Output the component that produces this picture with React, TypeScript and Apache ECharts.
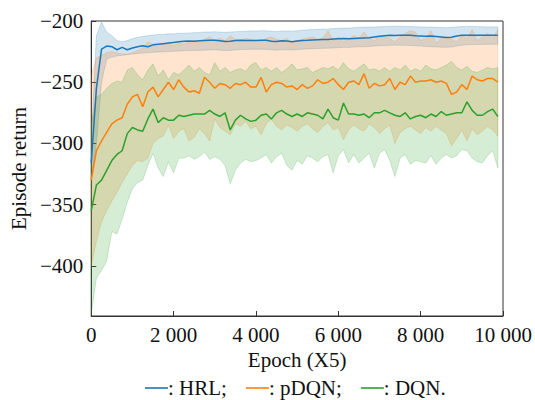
import React, { useEffect, useRef } from 'react';
import * as echarts from 'echarts';

const STEP = 125;

const hrlMean = [
  -316, -255, -223, -220.5, -221, -223.5, -221.5, -223.5, -222, -221,
  -220.2, -221, -219.5, -219, -218.5, -218, -217.5, -217, -216.5, -216.3,
  -216.5, -216.2, -216, -215.8, -215.8, -216.2, -216.8, -216.5, -216, -215.8,
  -216, -215.9, -216, -215.7, -215.8, -216.5, -216.8, -216.2, -216.4, -217,
  -216.3, -216, -215.8, -215.5, -215.3, -215.1, -215.2, -214.8, -214.5, -214.3,
  -214.6, -214.2, -214, -213.8, -213.6, -213, -212.5, -212, -211.7, -211.8,
  -211.6, -211.7, -211.6, -212, -212.2, -212.4, -212.2, -212.6, -213, -213.5,
  -213.2, -212.2, -211.7, -211.6, -211.7, -211.6, -211.6, -211.7, -211.6, -211.6,
];
const hrlHigh = [
  -300, -212, -201, -209, -212, -216, -217, -216, -214.5, -213.5,
  -212.5, -212, -211.5, -211, -211, -210.5, -210.5, -210, -210, -209.8,
  -209.5, -209.3, -209, -209, -208.8, -209, -209.2, -209, -208.7, -208.5,
  -208.3, -208, -208.2, -208, -208, -208.4, -208.5, -208.2, -208.1, -208.3,
  -208, -207.5, -207.2, -207, -206.8, -206.5, -206.5, -206.2, -206, -205.8,
  -205.8, -205.5, -205.2, -205, -205, -204.9, -204.7, -204.5, -204.3, -204.3,
  -204.3, -204.4, -204.5, -204.6, -204.8, -205, -205, -205.2, -205.3, -205.5,
  -205.2, -204.8, -204.5, -204.4, -204.5, -204.6, -204.7, -204.8, -204.8, -204.9,
];
const hrlLow = [
  -330, -300, -250, -231, -229.5, -228.5, -228, -227.5, -227, -226.5,
  -226.2, -226, -225.6, -225.3, -225.2, -225, -224.8, -224.5, -224.3, -224.2,
  -224, -224, -223.8, -223.6, -223.5, -223.8, -224.2, -224, -223.6, -223.3,
  -223.2, -223, -223.2, -223, -223.2, -223.5, -223.8, -223.5, -223.5, -223.6,
  -223.3, -223, -222.8, -222.6, -222.5, -222.3, -222.2, -222, -221.8, -221.5,
  -221.6, -221.3, -221.1, -221, -220.8, -220.5, -220.2, -220, -219.8, -219.8,
  -219.8, -219.9, -220, -220.2, -220.5, -220.8, -221, -221.2, -221.4, -221.5,
  -221.2, -220.5, -219.8, -219.5, -219.3, -219.2, -219.1, -219, -219, -219,
];

const pdqnMean = [
  -330, -306, -298, -291, -284, -281, -279, -268, -262, -260,
  -270, -258, -254, -262, -256, -250, -256, -248, -254, -258,
  -257, -259, -246, -250, -255, -251, -252, -255, -251, -252,
  -250, -254, -254, -246, -258, -252, -250, -251, -254, -253,
  -256, -252, -255, -253, -248, -251, -250, -247, -252, -256,
  -250, -249, -252, -243, -255, -251, -253, -252, -247, -256,
  -250, -252, -245, -250, -249, -249, -248, -250, -249, -251,
  -260, -258, -252, -256, -245, -248, -249, -247, -247, -250,
];
const pdqnHigh = [
  -245, -230, -228, -226, -225, -226, -227, -227, -226, -224,
  -222, -217, -219, -221, -218, -219, -220, -218, -219, -217,
  -216, -217, -215, -213, -216, -214, -216, -212, -215, -216,
  -214, -215, -216, -217, -214, -213, -215, -216, -214, -218,
  -216, -215, -214, -213, -215, -214, -208, -216, -213, -217,
  -215, -212, -214, -209, -214, -216, -212, -213, -214, -217,
  -213, -210, -208, -209, -216, -214, -208, -218, -214, -213,
  -215, -217, -212, -214, -207, -216, -213, -210, -214, -207,
];
const pdqnLow = [
  -400, -380, -364, -355, -347, -340, -332, -325, -318, -314,
  -315, -312, -300, -296, -294, -285, -296, -290, -288, -298,
  -295, -288, -292, -298, -280, -287, -290, -293, -284, -286,
  -282, -288, -286, -293, -284, -280, -286, -289, -285, -287,
  -290, -286, -284, -288, -291, -286, -283, -289, -287, -297,
  -289, -285, -288, -290, -284, -287, -292, -288, -285, -300,
  -291, -288, -286, -289, -292, -287, -290, -286, -289, -292,
  -302, -296, -289, -298, -288, -293, -290, -286, -289, -294,
];

const dqnMean = [
  -355, -334, -330, -322, -314, -309, -306, -292, -287, -289,
  -290, -280, -272, -283, -279, -281, -281, -277, -278, -277,
  -276, -276, -276, -273, -276, -278, -275, -289, -281, -277,
  -280, -282, -281, -277, -276, -280, -275, -273, -276, -278,
  -276, -278, -275, -276, -277, -280, -272, -279, -281, -267,
  -276, -276, -277, -276, -279, -275, -275, -273, -275, -277,
  -278, -275, -280, -278, -277, -279, -276, -278, -274, -277,
  -276, -275, -275, -266, -273, -277, -277, -274, -272, -278,
];
const dqnHigh = [
  -285, -262, -260, -255, -251, -249, -250, -240, -238, -244,
  -248, -240, -235, -245, -240, -248, -242, -244, -240, -236,
  -241, -238, -242, -244, -234, -241, -238, -242, -240, -239,
  -241, -236, -234, -240, -238, -241, -238, -242, -239, -235,
  -240, -239, -238, -242, -240, -238, -239, -237, -240, -234,
  -239, -241, -238, -235, -240, -239, -241, -238, -241, -238,
  -240, -236, -241, -239, -241, -236, -239, -240, -238, -236,
  -233, -238, -240, -237, -241, -242, -240, -238, -239, -238,
];
const dqnLow = [
  -440, -410, -404, -396, -372, -374, -362, -348, -337, -332,
  -330, -318, -308, -320, -327, -315, -324, -312, -312, -310,
  -313, -311, -307, -313, -311, -313, -318, -333, -322, -316,
  -313, -315, -314, -312, -309, -316, -311, -308, -318, -322,
  -314, -317, -310, -312, -315, -311, -309, -324, -310, -305,
  -316, -309, -316, -312, -308, -320, -308, -305, -314, -327,
  -312, -309, -317, -314, -315, -316, -310, -317, -312, -309,
  -312, -310, -305, -306, -312, -315, -316, -310, -306, -320,
];

const epochs = hrlMean.map((_, i) => i * STEP);

const yTicks = [-400, -350, -300, -250, -200];

const FONT = "'Liberation Serif', 'Times New Roman', serif";

function bandSeries(name: string, low: number[], high: number[], fill: string, edge: string) {
  return {
    type: 'custom',
    name: name + ' band',
    silent: true,
    clip: true,
    z: 1,
    data: [[epochs[0], low[0]]],
    encode: { x: 0, y: 1 },
    renderItem: (params: any, api: any) => {
      const pts: number[][] = [];
      for (let i = 0; i < epochs.length; i++) pts.push(api.coord([epochs[i], high[i]]));
      for (let i = epochs.length - 1; i >= 0; i--) pts.push(api.coord([epochs[i], low[i]]));
      return {
        type: 'polygon',
        shape: { points: pts },
        style: { fill, stroke: edge, lineWidth: 0.8 },
      };
    },
  };
}

function lineSeries(name: string, values: number[], color: string) {
  return {
    type: 'line',
    name,
    z: 5,
    symbol: 'none',
    showSymbol: false,
    data: epochs.map((x, i) => [x, values[i]]),
    lineStyle: { color, width: 1.5 },
    itemStyle: { color },
  };
}

function fmtThousands(v: number) {
  return String(v).replace(/\B(?=(\d{3})+(?!\d))/g, ' ');
}

export default function App() {
  const ref = useRef<HTMLDivElement>(null);
  useEffect(() => {
    if (!ref.current) return;
    const chart = echarts.init(ref.current, undefined, { renderer: 'svg' });
    chart.setOption({
      animation: false,
      textStyle: { fontFamily: FONT },
      grid: {
        left: 89,
        right: 32,
        top: 21,
        bottom: 84,
        show: true,
        borderColor: '#333',
        borderWidth: 1,
        backgroundColor: 'transparent',
      },
      legend: {
        data: ['HRL', 'pDQN', 'DQN'],
        left: 145,
        top: 377,
        padding: 0,
        icon: 'rect',
        itemWidth: 23,
        itemHeight: 1.6,
        itemGap: 19,
        formatter: (name: string) => (name === 'DQN' ? ': DQN.' : ': ' + name + ';'),
        textStyle: { fontFamily: FONT, fontSize: 21, lineHeight: 22, color: '#111', padding: [0, 0, 0, -5] },
      },
      xAxis: {
        type: 'value',
        min: 0,
        max: 10000,
        interval: 2000,
        name: 'Epoch (X5)',
        nameLocation: 'middle',
        nameGap: 33,
        nameTextStyle: { fontFamily: FONT, fontSize: 21, color: '#111' },
        axisLine: { show: true, lineStyle: { color: '#333', width: 1 } },
        axisTick: { show: true, inside: true, length: 5, lineStyle: { color: '#333' } },
        axisLabel: {
          fontFamily: FONT,
          fontSize: 21,
          color: '#111',
          margin: 8,
          formatter: (v: number) => fmtThousands(v),
        },
        splitLine: { show: false },
      },
      yAxis: {
        type: 'value',
        min: -441,
        max: -200,
        name: 'Episode return',
        nameLocation: 'middle',
        nameRotate: 90,
        nameGap: 60,
        nameTextStyle: { fontFamily: FONT, fontSize: 21, color: '#111' },
        axisLine: { show: true, onZero: false, lineStyle: { color: '#333', width: 1 } },
        axisTick: { show: true, inside: true, length: 5, customValues: yTicks, lineStyle: { color: '#333' } },
        axisLabel: {
          fontFamily: FONT,
          fontSize: 21,
          color: '#111',
          margin: 8,
          customValues: yTicks,
          formatter: (v: number) => (v < 0 ? '\u2212' : '') + Math.abs(v),
        },
        splitLine: { show: false },
      },
      series: [
        bandSeries('HRL', hrlLow, hrlHigh, 'rgba(31,119,180,0.2)', 'rgba(31,119,180,0.25)'),
        bandSeries('pDQN', pdqnLow, pdqnHigh, 'rgba(255,127,14,0.2)', 'rgba(255,127,14,0.25)'),
        bandSeries('DQN', dqnLow, dqnHigh, 'rgba(44,160,44,0.2)', 'rgba(44,160,44,0.25)'),
        lineSeries('HRL', hrlMean, '#1f77b4'),
        lineSeries('pDQN', pdqnMean, '#ff7f0e'),
        lineSeries('DQN', dqnMean, '#2ca02c'),
      ],
    });
    return () => chart.dispose();
  }, []);
  return (
    <div
      ref={ref}
      style={{ position: 'fixed', left: 0, top: 0, width: 535, height: 400, background: '#fff' }}
    />
  );
}
